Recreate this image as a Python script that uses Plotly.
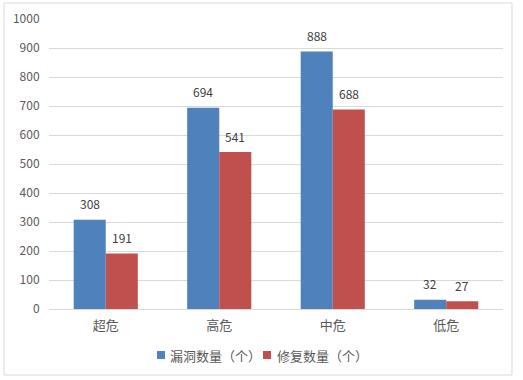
import plotly.graph_objects as go

categories = ["超危", "高危", "中危", "低危"]
vuln_counts = [308, 694, 888, 32]
fixed_counts = [191, 541, 688, 27]
series_names = ["漏洞数量（个）", "修复数量（个）"]
y_ticks = [0, 100, 200, 300, 400, 500, 600, 700, 800, 900, 1000]

FONT = "Noto Sans CJK SC, Liberation Sans, sans-serif"
BLUE = "#4F81BD"
RED = "#C0504D"
colors = [BLUE, RED]

W, H = 523, 380
L, R, T, B = 49, 20, 19, 71
PW, PH = W - L - R, H - T - B


def px_x(px):
    return (px - L) / PW


def px_y(py):
    return (H - B - py) / PH


fig = go.Figure()
for name, vals, col in zip(series_names, (vuln_counts, fixed_counts), colors):
    fig.add_trace(go.Bar(x=categories, y=vals, name=name, showlegend=False,
                         hoverinfo="skip",
                         marker=dict(color=col, line=dict(width=0))))

annotations = []
for vals, dx in ((vuln_counts, -16), (fixed_counts, 16)):
    for c, v in zip(categories, vals):
        annotations.append(dict(x=c, y=v, xref="x", yref="y", text=str(v),
                                showarrow=False, xshift=dx, yshift=16,
                                font=dict(family=FONT, size=12, color="#404040")))

shapes = [dict(type="rect", xref="paper", yref="paper",
               x0=px_x(4), x1=px_x(512), y0=px_y(375), y1=px_y(3),
               line=dict(color="#D9D9D9", width=1), fillcolor="rgba(0,0,0,0)",
               layer="below")]

# custom legend
legend_pos = [(157, 168), (263, 275)]
for (sx, tx), name, col in zip(legend_pos, series_names, colors):
    shapes.append(dict(type="rect", xref="paper", yref="paper",
                       x0=px_x(sx), x1=px_x(sx + 8), y0=px_y(359), y1=px_y(351),
                       line=dict(width=0), fillcolor=col))
    annotations.append(dict(x=px_x(tx), y=px_y(355), xref="paper", yref="paper",
                            text=name, showarrow=False, xanchor="left", yanchor="middle",
                            font=dict(family=FONT, size=13, color="#595959")))

fig.update_layout(
    width=W, height=H,
    margin=dict(l=L, r=R, t=T, b=B, autoexpand=False),
    paper_bgcolor="white", plot_bgcolor="white",
    barmode="group", bargap=0.435, bargroupgap=0,
    font=dict(family=FONT, size=12, color="#595959"),
    showlegend=False,
    annotations=annotations,
    shapes=shapes,
)
fig.update_yaxes(range=[0, 1000], tickvals=y_ticks, showgrid=True,
                 gridcolor="#D9D9D9", gridwidth=1, zeroline=True,
                 zerolinecolor="#D9D9D9", zerolinewidth=1, automargin=False,
                 tickfont=dict(family=FONT, size=12, color="#595959"),
                 ticks="outside", ticklen=6, tickcolor="rgba(0,0,0,0)")
fig.update_xaxes(showgrid=False, showline=False, automargin=False,
                 tickfont=dict(family=FONT, size=13, color="#595959"),
                 ticks="outside", ticklen=4, tickcolor="rgba(0,0,0,0)")

fig.write_html("out.html", config={"displayModeBar": False, "staticPlot": True},
               post_script="document.body.style.margin='0';document.body.style.overflow='hidden';")
